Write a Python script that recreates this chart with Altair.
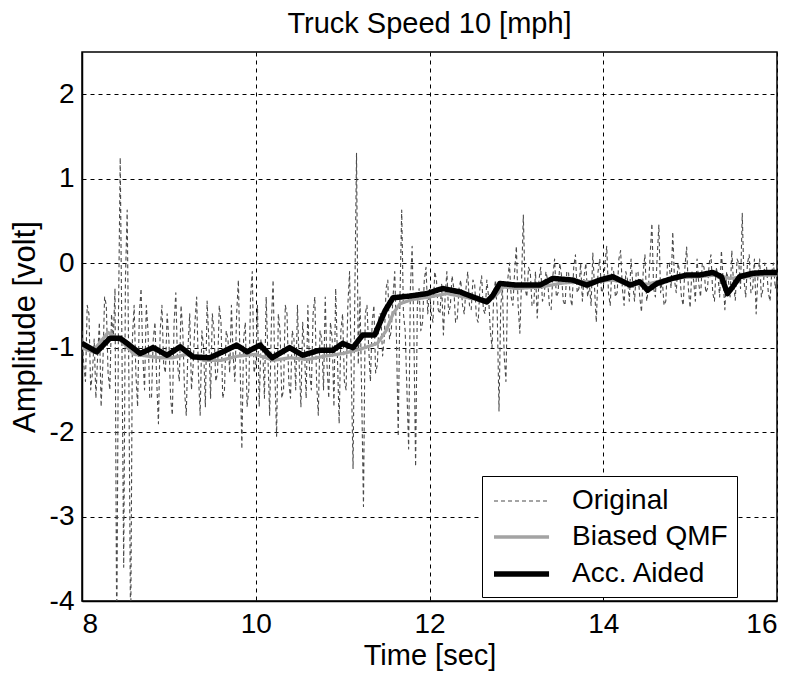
import altair as alt
import pandas as pd

# ---------------- data ----------------
SERIES = ["Original", "Biased QMF", "Acc. Aided"]

orig_start = 8.0
orig_step = 0.02
orig_vals = [
    -0.8, -1.2, -1.4, -0.5, -0.6, -1.5, -1.3, -0.9, -1.6, -1.1, -0.7, -1.7, -1.2, -0.4, -0.5, -1.3, -1.5, -0.6, -0.9, -0.3,
    -4.5, -0.6, 1.25, -1.0, -3.6, -0.2, 0.63, -1.4, -4.5, -0.9, -0.5, -1.3, -1.7, -0.6, -0.3, -1.1, -1.5, -0.5, -0.8, -1.6,
    -1.6, -0.9, -0.7, -1.4, -1.9, -0.8, -0.5, -1.2, -1.3, -0.6, -0.9, -1.6, -1.8, -0.7, -0.35, -1.2, -1.4, -0.5, -0.8, -1.5,
    -1.8, -1.0, -0.6, -1.5, -1.2, -0.7, -0.4, -1.3, -1.8, -0.8, -1.0, -1.7, -0.45, -0.9, -1.6, -0.6, -0.8, -1.4, -1.3, -0.5,
    -0.7, -1.6, -1.5, -0.8, -0.9, -1.3, -0.5, -1.1, -1.4, -0.6, -0.2, -1.2, -2.2, -0.9, -0.7, -1.7, -1.5, -0.4, -0.1, -1.3,
    -1.2, -0.5, -1.7, -0.9, -1.0, -1.6, -0.4, -1.1, -1.8, -0.7, -0.2, -1.3, -2.05, -0.6, -0.8, -1.6, -1.5, -0.5, -0.6, -1.4,
    -1.6, -0.8, -0.9, -1.5, -0.5, -1.2, -1.7, -0.7, -1.0, -1.6, -0.5, -1.3, -1.5, -0.6, -0.4, -1.4, -1.8, -0.8, -0.9, -1.5,
    -0.4, -1.2, -1.6, -0.7, -0.9, -1.7, -0.3, -1.1, -1.9, -0.8, -0.6, -1.4, -1.5, -0.5, -0.1, -1.3, -2.43, -0.4, 1.3, -1.2,
    -0.4, -1.6, -2.88, -0.6, -0.5, -1.0, -1.4, -0.7, -0.5, -1.3, -1.2, -0.6, -0.6, -1.1, -0.9, -0.3, -0.2, -0.9, -0.8, -0.4,
    -0.1, -0.9, -2.05, -0.4, 0.63, -0.6, -0.8, -1.5, -2.2, -0.3, 0.2, -0.8, -2.41, -0.5, -0.3, -0.8, -0.7, -0.2, -0.05, -0.6,
    -0.3, -0.6, -0.7, -0.1, -0.2, -0.55, -0.6, -0.25, -0.85, -0.4, -0.1, -0.6, -0.5, -0.15, -0.3, -0.7, -0.65, -0.3, -0.2, -0.5,
    -0.6, -0.3, -0.1, -0.5, -0.55, -0.2, -0.25, -0.65, -0.7, -0.3, -0.15, -0.55, -0.6, -0.2, -0.4, -0.8, -1.0, -0.35, -0.2, -0.6,
    -1.75, -0.5, -0.3, -1.1, -1.4, -0.2, 0.0, -0.4, -0.5, -0.1, 0.2, -0.5, -0.83, -0.2, 0.57, -0.3, -0.4, -0.05, -0.1, -0.5,
    -0.5, -0.1, -0.65, -0.2, -0.05, -0.45, -0.4, -0.1, -0.2, -0.5, -0.55, -0.15, 0.05, -0.4, -0.35, 0.0, -0.15, -0.45, -0.5, -0.1,
    -0.1, -0.4, -0.51, -0.05, 0.1, -0.35, -0.3, 0.0, -0.45, -0.15, 0.0, -0.4, -0.25, -0.5, 0.12, -0.3, -0.7, -0.1, 0.05, -0.35,
    -0.3, 0.0, 0.2, -0.35, -0.5, -0.05, -0.1, -0.4, -0.35, 0.05, 0.15, -0.3, -0.5, -0.1, -0.2, -0.45, 0.05, -0.25, -0.45, -0.1,
    -0.1, -0.4, -0.58, -0.1, 0.1, -0.45, -0.3, 0.1, 0.47, -0.3, -0.4, 0.05, 0.45, -0.35, -0.2, -0.5, -0.45, 0.0, 0.0, -0.3,
    0.37, -0.2, -0.35, 0.0, -0.1, -0.4, -0.5, -0.05, 0.19, -0.3, -0.53, -0.1, -0.2, -0.45, 0.05, -0.25, -0.4, 0.0, -0.05, -0.35,
    -0.3, 0.0, 0.1, -0.35, -0.45, -0.05, -0.15, -0.4, 0.15, -0.2, -0.55, -0.1, -0.2, -0.4, 0.15, -0.25, -0.44, 0.05, 0.0, -0.3,
    0.59, -0.2, -0.4, 0.0, 0.1, -0.35, -0.3, 0.05, -0.6, -0.15, 0.05, -0.4, -0.3, 0.0, -0.05, -0.35, -0.45, -0.1, 0.0, -0.3,
    -0.2,
]
orig_t = [round(orig_start + orig_step * i, 2) for i in range(len(orig_vals))]

qmf_t = [8.0, 8.12, 8.3, 8.45, 8.6, 8.75, 8.9, 9.05, 9.2, 9.4, 9.6, 9.8, 10.0,
         10.2, 10.4, 10.6, 10.8, 11.0, 11.2, 11.4, 11.5, 11.58, 11.66, 11.8,
         12.0, 12.2, 12.4, 12.6, 12.75, 12.85, 13.0, 13.3, 13.5, 13.7, 13.9,
         14.1, 14.3, 14.5, 14.7, 14.9, 15.1, 15.3, 15.45, 15.6, 15.8, 16.0]
qmf_vals = [-1.0, -1.05, -0.82, -0.92, -1.08, -1.1, -1.12, -1.12, -1.08, -1.15,
            -1.15, -1.1, -1.08, -1.15, -1.12, -1.14, -1.1, -1.07, -1.02, -0.95,
            -0.8, -0.6, -0.48, -0.43, -0.4, -0.36, -0.4, -0.44, -0.4, -0.28,
            -0.3, -0.28, -0.24, -0.22, -0.22, -0.2, -0.24, -0.25, -0.2, -0.17,
            -0.16, -0.14, -0.18, -0.17, -0.14, -0.14]

acc_t = [8.0, 8.17, 8.32, 8.44, 8.52, 8.67, 8.82, 8.98, 9.13, 9.28, 9.47, 9.62,
         9.78, 9.9, 10.05, 10.19, 10.39, 10.54, 10.74, 10.89, 11.0, 11.12,
         11.23, 11.37, 11.49, 11.58, 11.77, 11.97, 12.15, 12.35, 12.5, 12.66,
         12.73, 12.81, 13.0, 13.27, 13.42, 13.65, 13.81, 13.96, 14.11, 14.31,
         14.42, 14.51, 14.62, 14.8, 14.96, 15.11, 15.26, 15.36, 15.43, 15.49,
         15.57, 15.72, 15.88, 16.0]
acc_vals = [-0.95, -1.05, -0.89, -0.89, -0.95, -1.07, -1.0, -1.09, -0.99, -1.11,
            -1.12, -1.05, -0.97, -1.05, -0.97, -1.12, -1.0, -1.09, -1.03, -1.03,
            -0.95, -1.0, -0.85, -0.85, -0.56, -0.41, -0.39, -0.36, -0.30, -0.34,
            -0.40, -0.46, -0.38, -0.24, -0.26, -0.26, -0.18, -0.2, -0.26, -0.2,
            -0.16, -0.26, -0.22, -0.32, -0.24, -0.18, -0.14, -0.14, -0.11, -0.16,
            -0.36, -0.28, -0.16, -0.12, -0.11, -0.11]

x_ticks = [8, 10, 12, 14, 16]
y_ticks = [-4, -3, -2, -1, 0, 1, 2]

# ---------------- frames ----------------
df_orig = pd.DataFrame({"t": orig_t, "v": orig_vals, "series": SERIES[0]})
df_qmf = pd.DataFrame({"t": qmf_t, "v": qmf_vals, "series": SERIES[1]})
df_acc = pd.DataFrame({"t": acc_t, "v": acc_vals, "series": SERIES[2]})

FONT = "Liberation Sans"
FS = 28

legend = alt.Legend(
    orient="none", legendX=400, legendY=424, title=None,
    symbolType="M-1,0H2.67", symbolSize=900,
    labelFont=FONT, labelFontSize=FS, labelColor="black",
    labelOffset=45, padding=9, rowPadding=5, labelLimit=400,
    labelExpr="datum.label + '\u00a0\u00a0\u00a0\u00a0'",
    fillColor="white", strokeColor="black",
)

x_enc = alt.X("t:Q", scale=alt.Scale(domain=[8, 16], nice=False, zero=False),
              axis=alt.Axis(values=x_ticks, title="Time [sec]", format="d"))
y_enc = alt.Y("v:Q", scale=alt.Scale(domain=[-4, 2.5], nice=False, zero=False),
              axis=alt.Axis(values=y_ticks, title="Amplitude [volt]",
                            titleFontSize=31, labelExpr="'' + datum.value"))
color_enc = alt.Color("series:N", scale=alt.Scale(domain=SERIES, range=["#4a4a4a", "#a3a3a3", "#000000"]), legend=legend)
dash_enc = alt.StrokeDash("series:N", scale=alt.Scale(domain=SERIES, range=[[4, 3], [1, 0], [1, 0]]), legend=legend)
width_enc = alt.StrokeWidth("series:N", scale=alt.Scale(domain=SERIES, range=[1.1, 5.5, 4.5]), legend=legend)


def line(df):
    return alt.Chart(df).mark_line(clip=True, strokeJoin="round").encode(
        x=x_enc, y=y_enc, color=color_enc, strokeDash=dash_enc, strokeWidth=width_enc,
        order="t:Q",
    )


chart = alt.layer(line(df_orig), line(df_qmf), line(df_acc)).properties(
    width=695, height=549,
    autosize=alt.AutoSizeParams(type="none"),
    padding={"left": 82, "top": 52, "right": 19, "bottom": 75},
    title=alt.TitleParams("Truck Speed 10 [mph]", font=FONT, fontSize=29,
                          fontWeight="normal", color="black", anchor="middle",
                          offset=13),
    background="white",
).configure_axis(
    labelFont=FONT, labelFontSize=FS, labelColor="black",
    titleFont=FONT, titleFontSize=29, titleFontWeight="normal", titleColor="black",
    grid=True, gridColor="black", gridDash=[4, 4], gridWidth=1, gridOpacity=1,
    domainColor="black", domainWidth=1.5, tickSize=0,
).configure_axisX(
    labelPadding=9, titlePadding=3,
).configure_axisY(
    labelPadding=8, titlePadding=8,
).configure_view(
    stroke="black", strokeWidth=1.5,
)

chart.save("out.html", embed_options={"renderer": "svg", "actions": False})
